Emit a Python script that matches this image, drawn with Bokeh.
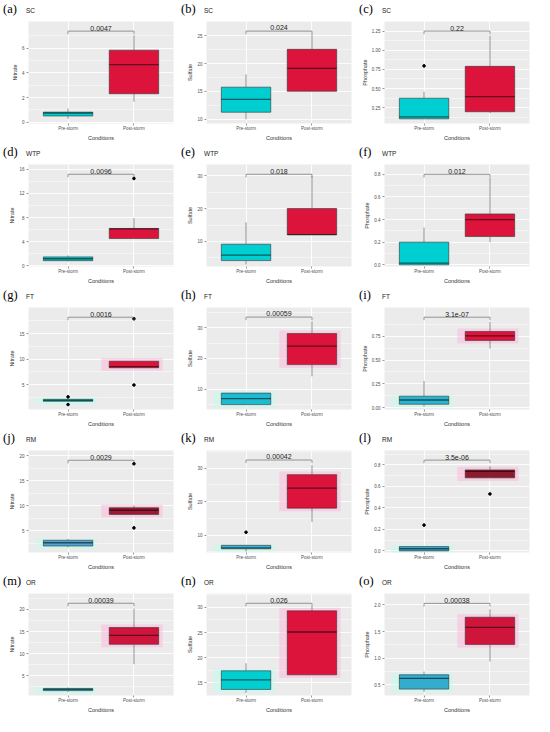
from bokeh.plotting import figure
from bokeh.layouts import column, row
from bokeh.models import Range1d, FixedTicker, PrintfTickFormatter, Div
from bokeh.core.properties import value
from bokeh.embed import file_html
from bokeh.resources import INLINE

conditions = ["Pre-storm", "Post-storm"]
tags = ["(a)", "(b)", "(c)", "(d)", "(e)", "(f)", "(g)", "(h)", "(i)", "(j)", "(k)", "(l)", "(m)", "(n)", "(o)"]
sites = ["SC"] * 3 + ["WTP"] * 3 + ["FT"] * 3 + ["RM"] * 3 + ["OR"] * 3
ions = ["Nitrate", "Sulfate", "Phosphate"] * 5
p_values = ["0.0047", "0.024", "0.22", "0.0096", "0.018", "0.012", "0.0016", "0.00059", "3.1e-07",
            "0.0029", "0.00042", "3.5e-06", "0.00039", "0.026", "0.00038"]

# Pre-storm box statistics (lower whisker, Q1, median, Q3, upper whisker)
pre_lo = [0.27, 9.95, 0.105, 0.7, 3.0, 0.0, 1.7, 5.04, 0.01, 1.7, 5.1, 0.0, 1.3, 13.0, 0.37]
pre_q1 = [0.51, 11.23, 0.105, 0.82, 4.2, 0.0, 1.7, 5.04, 0.035, 1.95, 5.9, 0.0, 1.6, 13.7, 0.42]
pre_med = [0.75, 13.53, 0.13, 1.14, 5.85, 0.015, 1.9, 7.0, 0.08, 2.6, 6.2, 0.02, 1.9, 15.6, 0.62]
pre_q3 = [0.82, 15.74, 0.374, 1.45, 9.16, 0.2, 2.1, 8.76, 0.12, 3.1, 6.94, 0.04, 2.1, 17.4, 0.69]
pre_hi = [1.1, 18.04, 0.46, 1.7, 15.8, 0.33, 2.1, 8.9, 0.28, 3.35, 6.94, 0.04, 2.3, 18.9, 0.75]
pre_out = [[], [], [0.796], [], [], [], [2.57, 1.07], [], [], [], [10.85], [0.24], [], [], []]

# Post-storm box statistics
post_lo = [1.67, 15.0, 0.18, 4.5, 12.07, 0.2, 8.29, 14.2, 0.62, 8.27, 13.96, 0.68, 7.6, 16.6, 0.94]
post_q1 = [2.31, 15.0, 0.197, 4.5, 12.07, 0.25, 8.29, 18.0, 0.706, 8.27, 18.04, 0.68, 12.1, 16.6, 1.26]
post_med = [4.67, 19.12, 0.395, 6.12, 12.1, 0.40, 8.5, 24.0, 0.753, 9.1, 24.0, 0.74, 14.1, 25.1, 1.58]
post_q3 = [5.84, 22.55, 0.79, 6.18, 20.0, 0.45, 9.57, 28.05, 0.80, 9.6, 28.04, 0.754, 15.9, 29.3, 1.77]
post_hi = [7.04, 25.25, 1.19, 7.9, 29.9, 0.77, 9.57, 32.0, 0.90, 10.0, 30.85, 0.79, 20.2, 30.2, 1.92]
post_out = [[], [], [], [14.5], [], [], [17.9, 4.9], [], [], [18.4, 5.57], [], [0.53], [], [], []]

bracket_y = [7.38, 25.83, 1.25, 15.2, 30.4, 0.80, 18.2, 33.4, 0.95, 19.1, 32.4, 0.845, 21.4, 30.8, 2.03]

y_limits = [(-0.1, 7.7), (9.2, 26.5), (0.044, 1.3), (-0.15, 16.1), (2.4, 32.1), (-0.015, 0.86),
            (0.1, 19.2), (3.45, 34.5), (-0.02, 1.0), (0.65, 20.2), (4.8, 33.2), (-0.015, 0.88),
            (0.5, 22.6), (12.5, 31.9), (0.3, 2.16)]
y_ticks = [[0, 2, 4, 6], [10, 15, 20, 25], [0.25, 0.5, 0.75, 1.0, 1.25], [0, 4, 8, 12, 16],
           [10, 20, 30], [0, 0.2, 0.4, 0.6, 0.8], [5, 10, 15], [10, 20, 30], [0, 0.25, 0.5, 0.75],
           [5, 10, 15, 20], [10, 20, 30], [0, 0.2, 0.4, 0.6, 0.8], [5, 10, 15, 20],
           [15, 20, 25, 30], [0.5, 1.0, 1.5, 2.0]]
y_fmt = ["%d", "%d", "%.2f", "%d", "%d", "%.1f", "%d", "%d", "%.2f", "%d", "%d", "%.1f", "%d", "%d", "%.1f"]

# styling
pre_fill = ["#00CED1"] * 7 + ["#1DBBD2", "#2BB3CF", "#4EA4D2", "#3FB0D6", "#3CAAD2", "#22BCD3", "#00CED1", "#33ACCE"]
post_fill = ["#DC143C"] * 9 + ["#9C1A33", "#DC143C", "#8E1A2E", "#D0153D", "#DC143C", "#D0153D"]
glow = [False] * 6 + [True] * 9

W, H = 178, 143
HEAD = 19
SANS = "Liberation Sans"


def make_header(i):
    html = ('<div style="position:relative;width:%dpx;height:%dpx;">'
            '<span style="position:absolute;left:3px;top:2px;font-family:\'Liberation Serif\';'
            'font-size:12.5px;color:#000;line-height:14px;">%s</span>'
            '<span style="position:absolute;left:26px;top:7px;font-family:\'Liberation Sans\';'
            'font-size:6.5px;color:#222;line-height:8px;">%s</span></div>') % (W, HEAD, tags[i], sites[i])
    return Div(text=html, width=W, height=HEAD, margin=(0, 0, 0, 0))


def make_panel(i):
    lo, hi0 = y_limits[i]
    by = bracket_y[i]
    hi = max(hi0, by + 0.1 * (hi0 - lo))
    rng = hi - lo
    p = figure(width=W, height=H - HEAD, x_range=Range1d(0.4, 2.6), y_range=Range1d(lo, hi),
               output_backend="svg", toolbar_location=None,
               min_border_left=28, min_border_right=5, min_border_top=2, min_border_bottom=0,
               margin=(0, 0, 0, 0))
    p.background_fill_color = "#EBEBEB"
    p.border_fill_color = "white"
    p.outline_line_color = None

    ticks = y_ticks[i]
    step = ticks[1] - ticks[0]
    minor = [t - step / 2 for t in ticks] + [ticks[-1] + step / 2]
    p.yaxis.ticker = FixedTicker(ticks=ticks, minor_ticks=minor)
    p.yaxis.formatter = PrintfTickFormatter(format=y_fmt[i])
    p.xaxis.ticker = FixedTicker(ticks=[1, 2])
    p.xaxis.major_label_overrides = {1: conditions[0], 2: conditions[1]}

    p.ygrid.grid_line_color = "white"
    p.ygrid.grid_line_width = 0.9
    p.ygrid.minor_grid_line_color = "white"
    p.ygrid.minor_grid_line_width = 0.45
    p.xgrid.grid_line_color = "white"
    p.xgrid.grid_line_width = 0.9

    for ax in (p.xaxis, p.yaxis):
        ax.axis_line_color = None
        ax.major_tick_line_color = "#333333"
        ax.major_tick_line_width = 0.5
        ax.major_tick_out = 2
        ax.major_tick_in = 0
        ax.minor_tick_line_color = None
        ax.major_label_text_font = SANS
        ax.major_label_text_font_size = "4.5px"
        ax.major_label_text_color = "#4D4D4D"
        ax.major_label_standoff = 0
        ax.axis_label_text_font = SANS
        ax.axis_label_text_font_size = "5.5px"
        ax.axis_label_text_font_style = "normal"
        ax.axis_label_text_color = "#333333"
        ax.axis_label_standoff = 1
    p.xaxis.axis_label = "Conditions"
    p.yaxis.axis_label = ions[i]

    xs = [1, 2]
    bw = 0.75
    if glow[i]:
        gx = 0.12
        gy = 0.03 * rng
        p.quad(left=[1 - bw / 2 - gx], right=[1 + bw / 2 + gx / 2], bottom=[pre_q1[i] - gy],
               top=[pre_q3[i] + gy / 2], fill_color="#B8FFEE", fill_alpha=0.45, line_color=None)
        p.quad(left=[2 - bw / 2 - gx], right=[2 + bw / 2 + gx / 2], bottom=[post_q1[i] - gy],
               top=[post_q3[i] + gy], fill_color="#FFB3D9", fill_alpha=0.5, line_color=None)

    # whiskers
    p.segment(x0=[1, 1, 2, 2], x1=[1, 1, 2, 2],
              y0=[pre_q3[i], pre_q1[i], post_q3[i], post_q1[i]],
              y1=[pre_hi[i], pre_lo[i], post_hi[i], post_lo[i]],
              line_color="#4D4D4D", line_width=0.6)
    # boxes
    p.vbar(x=xs, width=bw, bottom=[pre_q1[i], post_q1[i]], top=[pre_q3[i], post_q3[i]],
           fill_color=[pre_fill[i], post_fill[i]], line_color="#333333", line_width=0.6)
    # medians
    p.segment(x0=[1 - bw / 2, 2 - bw / 2], x1=[1 + bw / 2, 2 + bw / 2],
              y0=[pre_med[i], post_med[i]], y1=[pre_med[i], post_med[i]],
              line_color="black", line_alpha=0.55, line_width=1.3)
    # outliers
    ox = [1] * len(pre_out[i]) + [2] * len(post_out[i])
    oy = list(pre_out[i]) + list(post_out[i])
    if ox:
        p.scatter(x=ox, y=oy, size=2.6, color="black")

    # comparison bracket
    tip = 0.03 * rng
    p.segment(x0=[1, 1, 2], x1=[2, 1, 2], y0=[by, by, by], y1=[by, by - tip, by - tip],
              line_color="#595959", line_width=0.6)
    p.text(x=[1.5], y=[by + 0.006 * rng], text=[p_values[i]], text_align="center",
           text_baseline="bottom", text_font=value(SANS), text_font_size="7px", text_color="#222222")
    return p


cells = [column(make_header(i), make_panel(i), spacing=0) for i in range(15)]
rows = [row(*cells[r * 3:(r + 1) * 3], spacing=0) for r in range(5)]
page = column(*rows, spacing=0)

open("out.html", "w").write(file_html(page, INLINE))
